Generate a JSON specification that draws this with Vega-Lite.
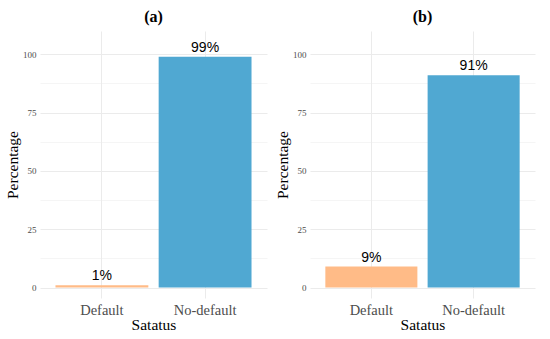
{
  "$schema": "https://vega.github.io/schema/vega-lite/v6.json",
  "background": "white",
  "padding": {"left": 5, "top": 9, "right": 10, "bottom": 5},
  "spacing": 8,
  "data": {"values": [
    {"panel": "(a)", "status": "Default", "pct": 1, "label": "1%"},
    {"panel": "(a)", "status": "No-default", "pct": 99, "label": "99%"},
    {"panel": "(b)", "status": "Default", "pct": 9, "label": "9%"},
    {"panel": "(b)", "status": "No-default", "pct": 91, "label": "91%"}
  ]},
  "config": {
    "view": {"stroke": null},
    "title": {"font": "Liberation Serif", "fontSize": 16, "fontWeight": "bold", "color": "black", "offset": 6},
    "axis": {
      "domain": false, "ticks": false,
      "gridColor": "#ebebeb",
      "labelFont": "Liberation Serif", "labelColor": "#4d4d4d",
      "titleFont": "Liberation Serif", "titleFontWeight": "normal", "titleColor": "black", "titleFontSize": 15.5
    }
  },
  "hconcat": [
    {
      "title": "(a)",
      "width": 227, "height": 267,
      "transform": [{"filter": "datum.panel === '(a)'"}],
      "encoding": {
        "x": {"field": "status", "type": "nominal", "title": "Satatus",
          "scale": {"paddingInner": 0.1, "paddingOuter": 0.15},
          "axis": {"grid": true, "labelAngle": 0, "labelFontSize": 14.5, "labelPadding": 5, "titlePadding": 1}},
        "y": {"field": "pct", "type": "quantitative", "title": "Percentage",
          "scale": {"domain": [-4.5, 110], "nice": false, "zero": false},
          "axis": {"values": [0, 12.5, 25, 37.5, 50, 62.5, 75, 87.5, 100],
            "labelExpr": "datum.value % 25 === 0 ? datum.label : ''",
            "gridWidth": {"condition": {"test": "datum.value % 25 !== 0", "value": 0.5}, "value": 1},
            "labelFontSize": 9, "labelPadding": 4, "titlePadding": 2}}
      },
      "layer": [
        {"mark": {"type": "bar"},
          "encoding": {"color": {"field": "status", "type": "nominal", "legend": null,
            "scale": {"domain": ["Default", "No-default"], "range": ["#FFBB87", "#50A8D2"]}}}},
        {"mark": {"type": "text", "font": "Liberation Sans", "fontSize": 14, "baseline": "alphabetic", "dy": -5, "color": "black"},
          "encoding": {"text": {"field": "label"}}}
      ]
    },
    {
      "title": "(b)",
      "width": 225, "height": 267,
      "transform": [{"filter": "datum.panel === '(b)'"}],
      "encoding": {
        "x": {"field": "status", "type": "nominal", "title": "Satatus",
          "scale": {"paddingInner": 0.1, "paddingOuter": 0.15},
          "axis": {"grid": true, "labelAngle": 0, "labelFontSize": 14.5, "labelPadding": 5, "titlePadding": 1}},
        "y": {"field": "pct", "type": "quantitative", "title": "Percentage",
          "scale": {"domain": [-4.5, 110], "nice": false, "zero": false},
          "axis": {"values": [0, 12.5, 25, 37.5, 50, 62.5, 75, 87.5, 100],
            "labelExpr": "datum.value % 25 === 0 ? datum.label : ''",
            "gridWidth": {"condition": {"test": "datum.value % 25 !== 0", "value": 0.5}, "value": 1},
            "labelFontSize": 9, "labelPadding": 4, "titlePadding": 2}}
      },
      "layer": [
        {"mark": {"type": "bar"},
          "encoding": {"color": {"field": "status", "type": "nominal", "legend": null,
            "scale": {"domain": ["Default", "No-default"], "range": ["#FFBB87", "#50A8D2"]}}}},
        {"mark": {"type": "text", "font": "Liberation Sans", "fontSize": 14, "baseline": "alphabetic", "dy": -5, "color": "black"},
          "encoding": {"text": {"field": "label"}}}
      ]
    }
  ]
}
